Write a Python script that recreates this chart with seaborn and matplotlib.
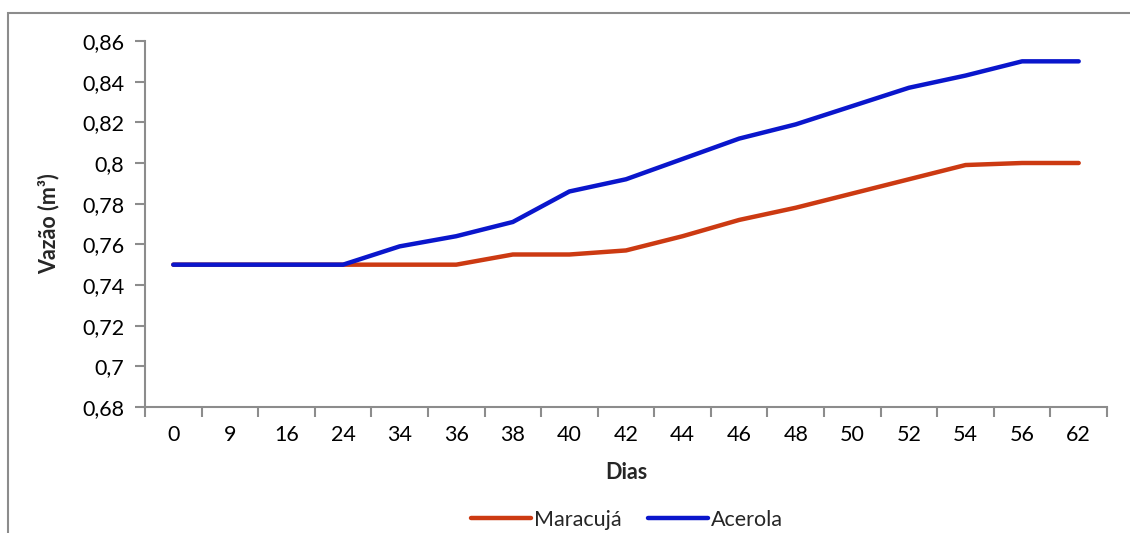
import matplotlib
matplotlib.use("Agg")
import matplotlib.pyplot as plt
import matplotlib.patches as mpatches
from matplotlib.ticker import FuncFormatter, FixedLocator
import numpy as np
import pandas as pd
import seaborn as sns

# data
dias = ["0", "9", "16", "24", "34", "36", "38", "40", "42",
        "44", "46", "48", "50", "52", "54", "56", "62"]
maracuja = [0.750, 0.750, 0.750, 0.750, 0.750, 0.750, 0.755, 0.755, 0.757,
            0.764, 0.772, 0.778, 0.785, 0.792, 0.799, 0.800, 0.800]
acerola = [0.750, 0.750, 0.750, 0.750, 0.759, 0.764, 0.771, 0.786, 0.792,
           0.802, 0.812, 0.819, 0.828, 0.837, 0.843, 0.850, 0.850]
series_names = ["Maracujá", "Acerola"]
colors = ["#CC3A12", "#0A16CC"]
y_ticks = [0.68, 0.70, 0.72, 0.74, 0.76, 0.78, 0.80, 0.82, 0.84, 0.86]

df = pd.DataFrame({
    "Dias": dias * 2,
    "Vazao": maracuja + acerola,
    "Serie": [series_names[0]] * len(dias) + [series_names[1]] * len(dias),
})

sns.set_theme(style="white")
plt.rcParams["font.family"] = ["Lato", "DejaVu Sans"]

fig = plt.figure(figsize=(11.3, 5.33), dpi=100)
ax = fig.add_axes([145 / 1130, 1 - 407 / 533, (1107 - 145) / 1130, (407 - 41) / 533])

sns.lineplot(data=df, x="Dias", y="Vazao", hue="Serie", palette=colors,
             sort=False, linewidth=3.2, ax=ax, legend=True)
for line in ax.lines:
    line.set_solid_capstyle("round")
    line.set_solid_joinstyle("round")

fs = 15.5
gray = "#8C8C8C"
ax.set_xlim(-0.5, len(dias) - 0.5)
ax.set_ylim(0.68, 0.86)
ax.yaxis.set_major_locator(FixedLocator(y_ticks))
ax.yaxis.set_major_formatter(FuncFormatter(lambda v, p: f"{v:.2f}".rstrip("0").replace(".", ",")))
ax.set_xticks(range(len(dias)))
ax.set_xticklabels(dias)
ax.set_xticks(np.arange(-0.5, len(dias), 1.0), minor=True)

ax.tick_params(axis="x", which="major", length=0, pad=13, labelsize=fs, colors="black")
ax.tick_params(axis="x", which="minor", length=7, width=1.5, color=gray, direction="out", bottom=True)
ax.tick_params(axis="y", which="major", length=7, width=1.5, color=gray, direction="out",
               left=True, pad=8, labelsize=fs, labelcolor="black")

for side in ["top", "right"]:
    ax.spines[side].set_visible(False)
for side in ["left", "bottom"]:
    ax.spines[side].set_color(gray)
    ax.spines[side].set_linewidth(1.5)

ax.set_xlabel("Dias", fontsize=fs, fontweight="bold", labelpad=12)
ax.set_ylabel("Vazão (m³)", fontsize=fs, fontweight="bold", labelpad=16)

handles, labels = ax.get_legend_handles_labels()
ax.get_legend().remove()
fig.legend(handles, labels, loc="lower center", bbox_to_anchor=(0.555, -0.03), ncol=2,
           frameon=False, fontsize=fs, handlelength=2.8, handletextpad=0.15, columnspacing=1.2)

# outer chart frame (continues past the right and bottom edges)
frame = mpatches.Rectangle((8 / 1130, -0.1), 1.2, 1 - 13 / 533 + 0.1, transform=fig.transFigure,
                           fill=False, edgecolor=gray, linewidth=1.5)
fig.patches.append(frame)

fig.savefig("out.png", dpi=100)
